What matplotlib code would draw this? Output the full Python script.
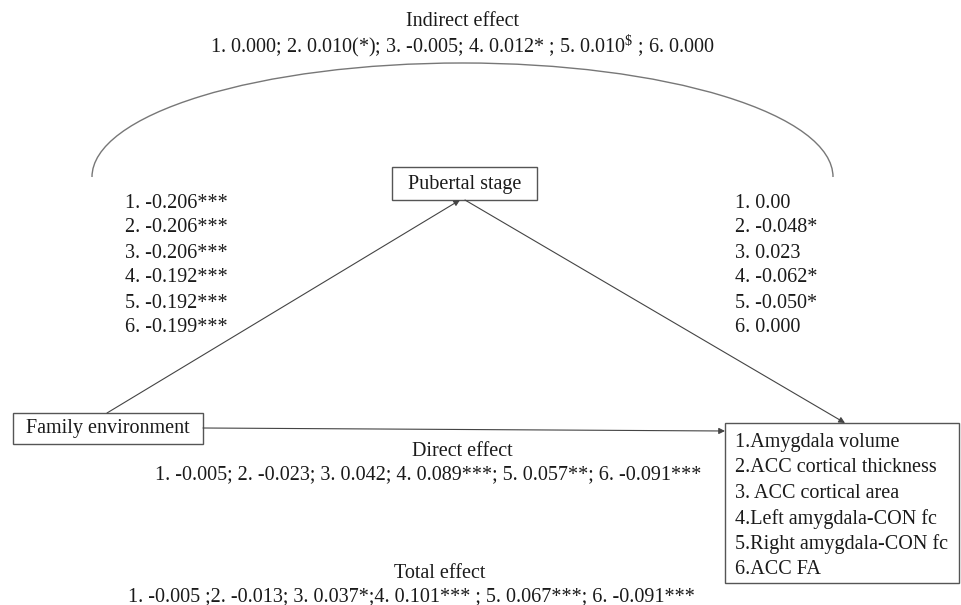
import matplotlib
matplotlib.use("Agg")
import matplotlib.pyplot as plt
from matplotlib.patches import Rectangle, Arc

plt.rcParams['font.family'] = ['Liberation Serif', 'DejaVu Serif']
plt.rcParams['mathtext.fontset'] = 'custom'
plt.rcParams['mathtext.rm'] = 'Liberation Serif'
plt.rcParams['mathtext.it'] = 'Liberation Serif:italic'

# ---- data ----
mediator = "Pubertal stage"
predictor = "Family environment"
outcomes = ["1.Amygdala volume", "2.ACC cortical thickness", "3. ACC cortical area",
            "4.Left amygdala-CON fc", "5.Right amygdala-CON fc", "6.ACC FA"]
a_paths = ["-0.206***", "-0.206***", "-0.206***", "-0.192***", "-0.192***", "-0.199***"]
b_paths = ["0.00", "-0.048*", "0.023", "-0.062*", "-0.050*", "0.000"]
indirect_vals = ["0.000", "0.010(*)", "-0.005", "0.012* ", r"0.010$^{\$}$ ", "0.000"]
indirect_seps = ["; ", "; ", "; ", "; ", "; "]
direct_vals = ["-0.005", "-0.023", "0.042", "0.089***", "0.057**", "-0.091***"]
direct_seps = ["; ", "; ", "; ", "; ", "; "]
total_vals = ["-0.005 ", "-0.013", "0.037*", "0.101*** ", "0.067***", "-0.091***"]
total_seps = [";", "; ", ";", "; ", "; "]


def join_effects(vals, seps):
    s = ""
    for i, v in enumerate(vals):
        s += f"{i+1}. {v}"
        if i < len(seps):
            s += seps[i]
    return s


fig = plt.figure(figsize=(9.61, 6.05), dpi=100)
ax = fig.add_axes([0, 0, 1, 1])
ax.set_xlim(0, 961)
ax.set_ylim(605, 0)
ax.axis('off')

FS = 14.5
tc = '#1a1a1a'
ec = '#555555'
lc = '#444444'

# header: indirect
ax.text(462, 22, "Indirect effect", ha='center', va='center', fontsize=FS, color=tc)
ax.text(462, 46, join_effects(indirect_vals, indirect_seps), ha='center', va='center',
        fontsize=FS, color=tc)

# arc
ax.add_patch(Arc((462.5, 177), 741, 228, theta1=180, theta2=360, color='#777777', lw=1.0))

# boxes
ax.add_patch(Rectangle((392, 167), 145, 33, fill=False, ec=ec, lw=1))
ax.text(464.5, 184, mediator, ha='center', va='center', fontsize=FS, color=tc)
ax.add_patch(Rectangle((13, 413), 190, 31, fill=False, ec=ec, lw=1))
ax.text(108, 429, predictor, ha='center', va='center', fontsize=FS, color=tc)
ax.add_patch(Rectangle((725, 423), 234, 160, fill=False, ec=ec, lw=1))
for i, o in enumerate(outcomes):
    ax.text(735, 442 + i * 25.6, o, ha='left', va='center', fontsize=FS, color=tc)

# arrows
ap = dict(arrowstyle='-|>', color=lc, lw=0.8, mutation_scale=9, shrinkA=0, shrinkB=0)
ax.annotate("", xy=(460, 200), xytext=(107, 413), arrowprops=ap)
ax.annotate("", xy=(845, 423), xytext=(465, 200), arrowprops=ap)
ax.annotate("", xy=(725, 431), xytext=(203, 428), arrowprops=ap)

# path coefficients
for i, (a, b) in enumerate(zip(a_paths, b_paths)):
    ax.text(125, 203 + i * 25, f"{i+1}. {a}", ha='left', va='center', fontsize=FS, color=tc)
    ax.text(735, 203 + i * 25, f"{i+1}. {b}", ha='left', va='center', fontsize=FS, color=tc)

# direct
ax.text(462, 451, "Direct effect", ha='center', va='center', fontsize=FS, color=tc)
ax.text(428, 475, join_effects(direct_vals, direct_seps), ha='center', va='center',
        fontsize=FS, color=tc)

# total
ax.text(440, 573, "Total effect", ha='center', va='center', fontsize=FS, color=tc)
ax.text(411, 597, join_effects(total_vals, total_seps), ha='center', va='center',
        fontsize=FS, color=tc)

fig.savefig("out.png", dpi=100)
